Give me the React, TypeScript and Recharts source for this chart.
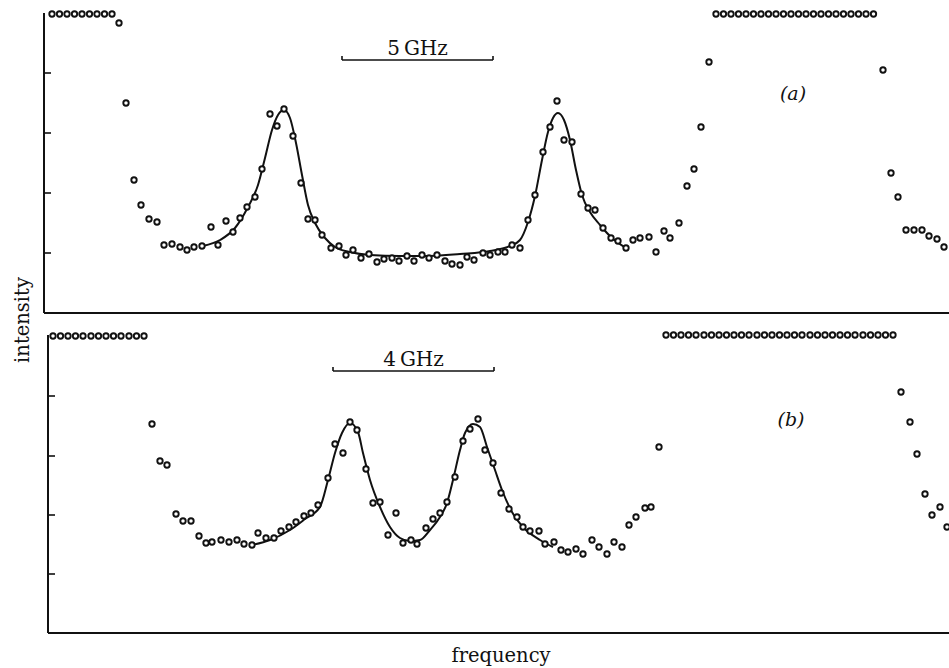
import { ComposedChart, Label, Line, ReferenceLine, Scatter, XAxis, YAxis } from "recharts";

// x = frequency channel (arbitrary units), y = detector counts (arbitrary units)

// ---- panel (a) ----
const panelAPoints: [number, number][] = [
  [52, 299], [59.5, 299], [67, 299], [74.5, 299], [82, 299], [89.5, 299], [97, 299], [104.5, 299], [112, 299],
  [119, 290], [126, 210], [134, 133], [141, 108], [149, 94], [157, 91], [164, 68], [172, 69], [180, 66],
  [187, 63], [194, 66], [202, 67], [211, 86], [218, 68], [226, 92], [233, 81], [240, 95], [247, 106],
  [255, 116], [262, 144], [270, 199], [277, 187], [284, 204], [293, 177], [301, 130], [308, 94], [315, 93],
  [322, 78], [331, 65], [339, 67], [346, 58], [353, 63], [361, 55], [369, 59], [377, 51], [384, 54],
  [392, 55], [399, 52], [407, 57], [414, 52], [422, 58], [429, 55], [437, 58], [445, 52], [452, 49],
  [460, 48], [467, 56], [474, 53], [483, 60], [490, 58], [498, 61], [505, 61], [512, 68], [520, 65],
  [528, 93], [535, 118], [543, 161], [550, 186], [557, 212], [564, 173], [572, 171], [581, 119], [588, 105],
  [595, 103], [603, 85], [611, 75], [618, 72], [626, 65], [633, 73], [640, 75], [649, 76], [656, 61],
  [664, 82], [670, 75], [679, 90], [687, 127], [694, 144], [701, 186], [709, 251],
  [716, 299], [723.5, 299], [731, 299], [738.5, 299], [746, 299], [753.5, 299], [761, 299], [768.5, 299],
  [776, 299], [783.5, 299], [791, 299], [798.5, 299], [806, 299], [813.5, 299], [821, 299], [828.5, 299],
  [836, 299], [843.5, 299], [851, 299], [858.5, 299], [866, 299], [873.5, 299],
  [883, 243], [891, 140], [898, 116], [906, 83], [914, 83], [922, 83], [929, 77], [937, 74], [944, 66],
];

const panelAFit: [number, number][] = [
  [203, 67], [220, 73], [235, 85], [248, 106], [258, 128], [265, 155], [272, 183], [278, 198], [284, 203],
  [290, 195], [296, 170], [302, 138], [308, 108], [315, 90], [325, 75], [335, 66], [350, 61], [370, 58],
  [400, 57], [430, 57], [460, 59], [490, 62], [510, 67], [520, 73], [528, 91], [535, 117], [542, 153],
  [548, 181], [553, 195], [558, 200], [564, 193], [570, 173], [576, 143], [582, 118], [590, 101],
  [600, 88], [612, 75], [626, 65],
];

// ---- panel (b) ----
const panelBPoints: [number, number][] = [
  [53, 297], [60.5, 297], [68, 297], [75.5, 297], [83, 297], [91, 297], [98.5, 297], [106, 297], [113.5, 297],
  [121, 297], [129, 297], [136.5, 297], [144, 297],
  [152, 209], [160, 172], [167, 168], [176, 119], [183, 112], [191, 112], [199, 97], [206, 90], [212, 91],
  [221, 93], [229, 91], [237, 93], [244, 89], [252, 88], [258, 100], [266, 95], [274, 95], [281, 102],
  [289, 106], [296, 111], [304, 117], [311, 120], [318, 128], [328, 155], [335, 189], [343, 180], [350, 211],
  [357, 203], [366, 164], [373, 130], [380, 131], [388, 98], [396, 120], [403, 90], [411, 93], [417, 89],
  [426, 105], [433, 114], [440, 120], [447, 131], [455, 156], [463, 192], [470, 204], [478, 214], [485, 183],
  [493, 170], [501, 140], [509, 124], [517, 116], [523, 106], [530, 102], [539, 102], [545, 89], [554, 91],
  [561, 83], [568, 81], [576, 84], [583, 79], [592, 93], [599, 86], [607, 79], [614, 91], [622, 86],
  [629, 108], [636, 116], [645, 125], [651, 126], [659, 186],
  [666, 298], [673.5, 298], [681, 298], [688.5, 298], [696, 298], [704, 298], [711.5, 298], [719, 298],
  [726.5, 298], [734, 298], [741.5, 298], [749, 298], [757, 298], [764.5, 298], [772, 298], [779.5, 298],
  [787, 298], [794.5, 298], [802, 298], [810, 298], [817.5, 298], [825, 298], [832.5, 298], [840, 298],
  [847.5, 298], [855, 298], [863, 298], [870.5, 298], [878, 298], [885.5, 298], [893, 298],
  [901, 241], [910, 211], [917, 179], [925, 139], [932, 118], [940, 126], [947, 106],
];

const panelBFit: [number, number][] = [
  [252, 88], [270, 93], [290, 103], [305, 114], [320, 126], [328, 153], [335, 180], [342, 200], [350, 210],
  [358, 201], [363, 180], [370, 153], [380, 126], [390, 106], [400, 95], [410, 92], [420, 93], [430, 103],
  [440, 116], [447, 130], [453, 153], [460, 183], [465, 200], [473, 209], [480, 206], [487, 186], [495, 163],
  [502, 143], [512, 121], [523, 106], [540, 93], [553, 86],
];

const axisTicks = [60, 120, 180, 240];
const axisTicksB = [59, 118, 177, 237];

// scale bars
const scaleBarA = { from: 342, to: 493, level: 253, label: "5\u2009GHz" };
const scaleBarB = { from: 333, to: 494, level: 262, label: "4\u2009GHz" };

const INK = "#111";
const SERIF = "'DejaVu Serif', 'Liberation Serif', serif";

const toRows = (pts: [number, number][]) => pts.map(([x, y]) => ({ x, y }));

const OpenDot = (props: any) => {
  const { cx, cy } = props;
  if (cx == null || cy == null) return null;
  return <circle cx={cx} cy={cy} r={2.7} fill="#fff" stroke={INK} strokeWidth={1.9} />;
};

type PanelProps = {
  points: [number, number][];
  fit: [number, number][];
  left: number;
  top: number;
  plotTop: number;
  yMax: number;
  ticks: number[];
  bar: { from: number; to: number; level: number; label: string };
};

function Panel({ points, fit, left, top, plotTop, yMax, ticks, bar }: PanelProps) {
  const width = left + 910;
  return (
    <div style={{ position: "absolute", left: 0, top }}>
      <ComposedChart
        width={width}
        height={320}
        margin={{ top: plotTop, right: 0, bottom: 5, left }}
      >
        <XAxis
          type="number"
          dataKey="x"
          domain={[left, left + 910]}
          height={2}
          tick={false}
          tickLine={false}
          axisLine={{ stroke: INK, strokeWidth: 2 }}
        />
        <YAxis
          type="number"
          dataKey="y"
          domain={[0, yMax]}
          ticks={ticks}
          mirror
          width={10}
          tickSize={7}
          tickFormatter={() => ""}
          tickLine={{ stroke: INK, strokeWidth: 1.6 }}
          axisLine={{ stroke: INK, strokeWidth: 2 }}
        />
        <ReferenceLine
          segment={[{ x: bar.from, y: bar.level }, { x: bar.to, y: bar.level }]}
          stroke={INK}
          strokeWidth={1.6}
        >
          <Label value={bar.label} position="top" offset={5} fontFamily={SERIF} fontSize={20} fill={INK} />
        </ReferenceLine>
        <ReferenceLine segment={[{ x: bar.from, y: bar.level }, { x: bar.from, y: bar.level + 4 }]} stroke={INK} strokeWidth={1.6} />
        <ReferenceLine segment={[{ x: bar.to, y: bar.level }, { x: bar.to, y: bar.level + 4 }]} stroke={INK} strokeWidth={1.6} />
        <Line
          data={toRows(fit)}
          dataKey="y"
          type="monotone"
          stroke={INK}
          strokeWidth={2}
          dot={false}
          activeDot={false}
          isAnimationActive={false}
        />
        <Scatter data={toRows(points)} dataKey="y" shape={OpenDot} isAnimationActive={false} />
      </ComposedChart>
    </div>
  );
}

const textBase: React.CSSProperties = {
  position: "absolute",
  fontFamily: SERIF,
  color: INK,
  lineHeight: 1,
  whiteSpace: "nowrap",
  transform: "translate(-50%, -50%)",
};

export default function App() {
  return (
    <div
      style={{
        position: "absolute",
        left: 0,
        top: 0,
        width: 949,
        height: 668,
        overflow: "hidden",
        background: "#fff",
      }}
    >
      <Panel points={panelAPoints} fit={panelAFit} left={44} top={0} plotTop={13} yMax={300} ticks={axisTicks} bar={scaleBarA} />
      <Panel points={panelBPoints} fit={panelBFit} left={48} top={320} plotTop={15} yMax={298} ticks={axisTicksB} bar={scaleBarB} />

      <div style={{ ...textBase, left: 793, top: 93, fontSize: 19, fontStyle: "italic" }}>(a)</div>
      <div style={{ ...textBase, left: 791, top: 419, fontSize: 19, fontStyle: "italic" }}>(b)</div>
      <div style={{ ...textBase, left: 23, top: 320, fontSize: 19.5, transform: "translate(-50%, -50%) rotate(-90deg)" }}>
        intensity
      </div>
      <div style={{ ...textBase, left: 501, top: 656, fontSize: 19.5 }}>frequency</div>
    </div>
  );
}
